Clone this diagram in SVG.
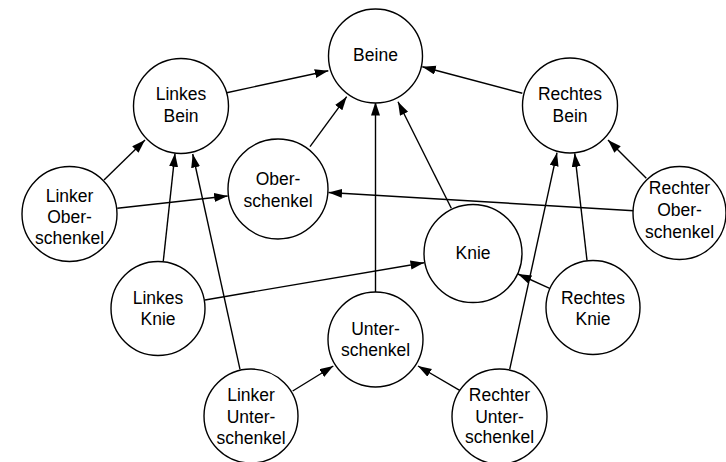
<svg xmlns="http://www.w3.org/2000/svg" width="726" height="462" viewBox="0 0 726 462">
<defs>
<marker id="ah" markerUnits="userSpaceOnUse" markerWidth="14" markerHeight="10" refX="13.5" refY="4.5" orient="auto">
<path d="M0,0 L13.5,4.5 L0,9 z" fill="#000"/>
</marker>
<style>
.n circle{fill:#fff;stroke:#000;stroke-width:1.4}
.n text{font-family:"Liberation Sans",Arial,Helvetica,sans-serif;font-size:17.5px;text-anchor:middle;fill:#000}
#edges line{stroke:#000;stroke-width:1.4;marker-end:url(#ah)}
</style>
</defs>
<rect width="726" height="462" fill="#fff"/>
<g id="edges">
<line x1="226.7" y1="92.7" x2="328.3" y2="70.7"/>
<line x1="522.3" y1="93.3" x2="422.3" y2="66.7"/>
<line x1="310" y1="146.7" x2="346.7" y2="96.7"/>
<line x1="375.5" y1="292" x2="375.5" y2="102"/>
<line x1="451.3" y1="208.3" x2="398" y2="101.7"/>
<line x1="104" y1="180" x2="145" y2="140"/>
<line x1="117.3" y1="208.3" x2="227.7" y2="196"/>
<line x1="163.3" y1="261" x2="175" y2="153.3"/>
<line x1="240" y1="369.3" x2="192.7" y2="154"/>
<line x1="205" y1="300" x2="424" y2="262.7"/>
<line x1="292.7" y1="391" x2="333.3" y2="366"/>
<line x1="459.7" y1="390.3" x2="418" y2="366"/>
<line x1="509.7" y1="369.3" x2="557" y2="152.7"/>
<line x1="587" y1="260.3" x2="574.7" y2="153.3"/>
<line x1="646.3" y1="178.3" x2="608" y2="140"/>
<line x1="633.7" y1="210.7" x2="328.5" y2="192.5"/>
<line x1="549.7" y1="288.3" x2="518" y2="274"/>
</g>
<g id="beine" class="n"><circle cx="375.5" cy="56" r="47"/><text x="375.5" y="61">Beine</text></g>
<g id="linkes-bein" class="n"><circle cx="181" cy="106" r="47.5"/><text x="181" y="100">Linkes</text><text x="181" y="122">Bein</text></g>
<g id="rechtes-bein" class="n"><circle cx="570" cy="105.5" r="47.5"/><text x="570" y="100">Rechtes</text><text x="570" y="122">Bein</text></g>
<g id="oberschenkel" class="n"><circle cx="278" cy="189" r="50"/><text x="278" y="185">Ober-</text><text x="278" y="207">schenkel</text></g>
<g id="linker-oberschenkel" class="n"><circle cx="69.5" cy="214" r="47.5"/><text x="69.5" y="202">Linker</text><text x="69.5" y="223">Ober-</text><text x="69.5" y="244">schenkel</text></g>
<g id="rechter-oberschenkel" class="n"><circle cx="679.5" cy="213" r="46.5"/><text x="679.5" y="194">Rechter</text><text x="679.5" y="216">Ober-</text><text x="679.5" y="238">schenkel</text></g>
<g id="knie" class="n"><circle cx="473" cy="253.5" r="49"/><text x="473" y="259">Knie</text></g>
<g id="linkes-knie" class="n"><circle cx="158" cy="308.5" r="47"/><text x="158" y="303.5">Linkes</text><text x="158" y="325">Knie</text></g>
<g id="rechtes-knie" class="n"><circle cx="593" cy="307.5" r="47"/><text x="593" y="303.5">Rechtes</text><text x="593" y="325">Knie</text></g>
<g id="unterschenkel" class="n"><circle cx="375.5" cy="339.5" r="47.5"/><text x="375.5" y="335">Unter-</text><text x="375.5" y="356">schenkel</text></g>
<g id="linker-unterschenkel" class="n"><circle cx="251" cy="416" r="47"/><text x="251" y="401">Linker</text><text x="251" y="422.5">Unter-</text><text x="251" y="443.5">schenkel</text></g>
<g id="rechter-unterschenkel" class="n"><circle cx="499.5" cy="416.5" r="47.5"/><text x="499.5" y="401">Rechter</text><text x="499.5" y="422.5">Unter-</text><text x="499.5" y="443">schenkel</text></g>
</svg>
